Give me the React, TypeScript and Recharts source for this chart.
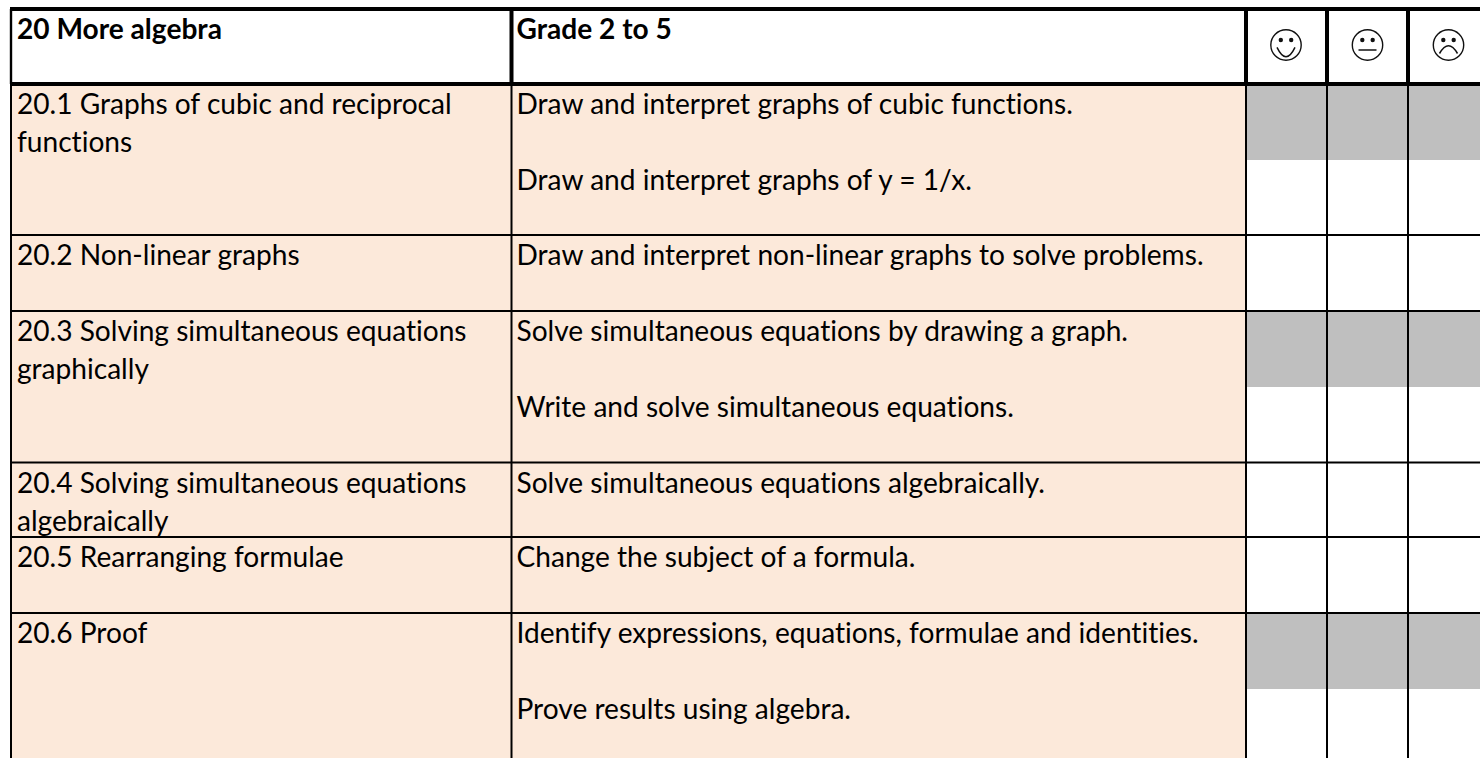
import React from 'react';
import { ScatterChart, Scatter, XAxis, YAxis, ReferenceArea, ReferenceLine } from 'recharts';

const WIDTH = 1480;
const HEIGHT = 758;

// table structure, in page pixels on the chart's own axes
const columnEdges = [11, 511.5, 1246, 1327, 1408, 1480];
const rowEdges = [9, 84, 235, 311, 462.5, 537, 613, 758];
const greyRows = [
  [86, 160],
  [311, 387],
  [614, 689],
];

const headerLabels = ['20 More algebra', 'Grade 2 to 5'];
const faces = ['happy', 'neutral', 'sad'];
const faceCentres = [1286, 1367.5, 1448.5];

const topicLines = [
  ['20.1 Graphs of cubic and reciprocal', 'functions'],
  ['20.2 Non-linear graphs'],
  ['20.3 Solving simultaneous equations', 'graphically'],
  ['20.4 Solving simultaneous equations', 'algebraically'],
  ['20.5 Rearranging formulae'],
  ['20.6 Proof'],
];

const objectiveLines = [
  ['Draw and interpret graphs of cubic functions.', 'Draw and interpret graphs of y = 1/x.'],
  ['Draw and interpret non-linear graphs to solve problems.'],
  ['Solve simultaneous equations by drawing a graph.', 'Write and solve simultaneous equations.'],
  ['Solve simultaneous equations algebraically.'],
  ['Change the subject of a formula.'],
  ['Identify expressions, equations, formulae and identities.', 'Prove results using algebra.'],
];

const FONT = 'Lato, Carlito, Calibri, sans-serif';
const FONT_SIZE = 28.1;
const TOPIC_LINE_GAP = 38;
const OBJECTIVE_LINE_GAP = 76;
const FIRST_BASELINE = 30;
const HEADER_BASELINE = 38.5;
const TOPIC_PAD = 6;
const OBJECTIVE_PAD = 5;

const textPoints: { x: number; y: number; label: string; bold?: boolean }[] = [
  { x: columnEdges[0] + TOPIC_PAD, y: HEADER_BASELINE, label: headerLabels[0], bold: true },
  { x: columnEdges[1] + OBJECTIVE_PAD, y: HEADER_BASELINE, label: headerLabels[1], bold: true },
];
topicLines.forEach((lines, r) => {
  lines.forEach((label, i) => {
    textPoints.push({
      x: columnEdges[0] + TOPIC_PAD,
      y: rowEdges[r + 1] + FIRST_BASELINE + i * TOPIC_LINE_GAP,
      label,
    });
  });
});
objectiveLines.forEach((lines, r) => {
  lines.forEach((label, i) => {
    textPoints.push({
      x: columnEdges[1] + OBJECTIVE_PAD,
      y: rowEdges[r + 1] + FIRST_BASELINE + i * OBJECTIVE_LINE_GAP,
      label,
    });
  });
});

const facePoints = faces.map((face, i) => ({ x: faceCentres[i], y: 45, face }));

const TextMark = (props: any) => {
  const { cx, cy, payload } = props;
  return (
    <text
      x={cx}
      y={cy}
      fontFamily={FONT}
      fontSize={FONT_SIZE}
      fontWeight={payload.bold ? 700 : 400}
      fill="#000"
      style={{ fontVariantLigatures: 'none' }}
    >
      {payload.label}
    </text>
  );
};

const FaceMark = (props: any) => {
  const { cx, cy, payload } = props;
  const mouth =
    payload.face === 'happy'
      ? `M${cx - 9} ${cy + 2.3} Q${cx} ${cy + 21} ${cx + 9} ${cy + 2.3}`
      : payload.face === 'neutral'
        ? `M${cx - 9} ${cy + 5} L${cx + 9} ${cy + 5}`
        : `M${cx - 9} ${cy + 8.5} Q${cx} ${cy - 7} ${cx + 9} ${cy + 8.5}`;
  return (
    <g>
      <circle cx={cx} cy={cy} r={15.2} fill="none" stroke="#111" strokeWidth={1.4} />
      <circle cx={cx - 5.2} cy={cy - 5} r={2.2} fill="#111" />
      <circle cx={cx + 5.2} cy={cy - 5} r={2.2} fill="#111" />
      <path d={mouth} fill="none" stroke="#111" strokeWidth={1.5} />
    </g>
  );
};

export default function App() {
  return (
    <div style={{ position: 'absolute', left: 0, top: 0, width: WIDTH, height: HEIGHT, background: '#fff' }}>
      <ScatterChart width={WIDTH} height={HEIGHT} margin={{ top: 0, right: 0, bottom: 0, left: 0 }}>
        <XAxis type="number" dataKey="x" domain={[0, WIDTH]} hide />
        <YAxis type="number" dataKey="y" domain={[0, HEIGHT]} reversed hide />

        <ReferenceArea x1={columnEdges[0]} x2={columnEdges[2]} y1={rowEdges[1]} y2={HEIGHT} fill="#FCE9DA" fillOpacity={1} stroke="none" />
        {greyRows.map(([y1, y2]) => (
          <ReferenceArea key={y1} x1={columnEdges[2]} x2={WIDTH} y1={y1} y2={y2} fill="#BFBFBF" fillOpacity={1} stroke="none" />
        ))}

        {/* body rules are thin, the header box is heavier */}
        {rowEdges.slice(2, -1).map((y) => (
          <ReferenceLine key={y} segment={[{ x: columnEdges[0], y }, { x: WIDTH, y }]} stroke="#000" strokeWidth={2} />
        ))}
        {columnEdges.slice(0, -1).map((x) => (
          <ReferenceLine key={x} segment={[{ x, y: rowEdges[1] }, { x, y: HEIGHT }]} stroke="#000" strokeWidth={2} />
        ))}
        {columnEdges.slice(1, -1).map((x) => (
          <ReferenceLine key={`h${x}`} segment={[{ x, y: rowEdges[0] }, { x, y: rowEdges[1] }]} stroke="#000" strokeWidth={4} />
        ))}
        <ReferenceLine segment={[{ x: columnEdges[0], y: rowEdges[0] }, { x: columnEdges[0], y: rowEdges[1] }]} stroke="#000" strokeWidth={2.4} />
        {rowEdges.slice(0, 2).map((y) => (
          <ReferenceLine key={`h${y}`} segment={[{ x: columnEdges[0] - 1, y }, { x: WIDTH, y }]} stroke="#000" strokeWidth={4} />
        ))}

        <Scatter data={textPoints} shape={TextMark} isAnimationActive={false} />
        <Scatter data={facePoints} shape={FaceMark} isAnimationActive={false} />
      </ScatterChart>
    </div>
  );
}
